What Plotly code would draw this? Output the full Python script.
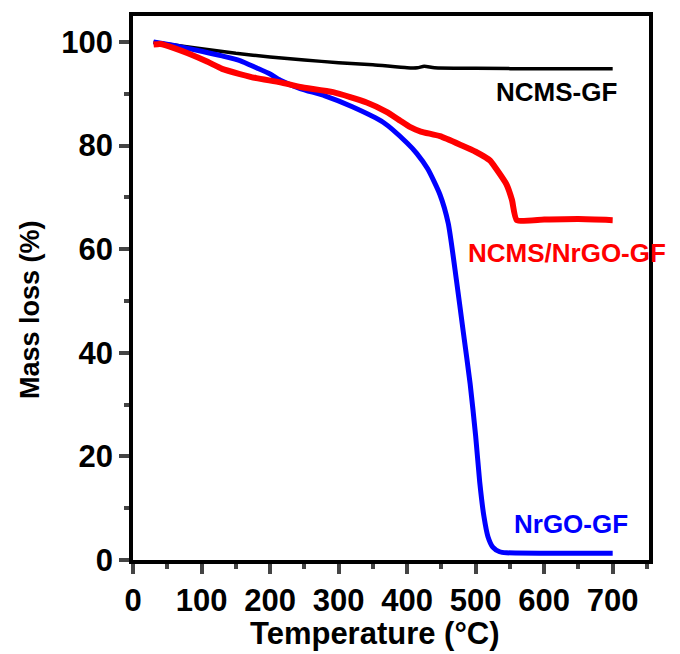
import plotly.graph_objects as go

# NCMS-GF (black)
t_ncms = [30, 50, 100, 150, 200, 250, 300, 350, 400, 415, 425, 440, 500, 600, 700]
m_ncms = [100, 99.6, 98.7, 97.8, 97.1, 96.5, 96.0, 95.6, 95.0, 95.0, 95.3, 95.0, 94.9, 94.8, 94.8]

# NrGO-GF (blue)
t_nrgo = [30, 60, 100, 130, 156, 180, 200, 215, 244, 280, 320, 365, 400, 414, 430, 448, 460,
          472, 482, 492, 500, 506, 512, 518, 525, 535, 545, 600, 700]
m_nrgo = [100, 99.3, 98.2, 97.3, 96.4, 95.0, 93.8, 92.6, 91.0, 89.6, 87.5, 84.5, 80.5, 78.5,
          75.5, 70.5, 65.0, 54.0, 44.0, 34.0, 24.0, 15.0, 8.5, 4.5, 2.5, 1.6, 1.4, 1.3, 1.3]

# NCMS/NrGO-GF (red)
t_comp = [30, 40, 60, 80, 108, 130, 156, 180, 215, 244, 292, 341, 370, 390, 404, 420, 448,
          480, 500, 521, 530, 545, 553, 560, 600, 650, 700]
m_comp = [99.5, 99.6, 98.8, 97.8, 96.2, 94.8, 93.8, 93.0, 92.2, 91.3, 90.3, 88.3, 86.5, 84.8,
          83.6, 82.7, 81.8, 80.0, 78.8, 77.1, 75.5, 72.5, 69.5, 65.6, 65.7, 65.8, 65.6]

x_ticks = [0, 100, 200, 300, 400, 500, 600, 700]
y_ticks = [0, 20, 40, 60, 80, 100]

labels = ["NCMS-GF", "NCMS/NrGO-GF", "NrGO-GF"]
label_x = [618, 634, 639]
label_y = [90.3, 59.2, 6.9]
label_colors = ["#000000", "#ff0000", "#0000ff"]

fig = go.Figure()
fig.add_trace(go.Scatter(x=t_ncms, y=m_ncms, mode="lines", line=dict(color="#000000", width=3.5, shape="spline", smoothing=0.6), name="NCMS-GF"))
fig.add_trace(go.Scatter(x=t_nrgo, y=m_nrgo, mode="lines", line=dict(color="#0000ff", width=5, shape="spline", smoothing=0.6), name="NrGO-GF"))
fig.add_trace(go.Scatter(x=t_comp, y=m_comp, mode="lines", line=dict(color="#ff0000", width=6, shape="spline", smoothing=0.5), name="NCMS/NrGO-GF"))

for txt, lx, ly, c in zip(labels, label_x, label_y, label_colors):
    fig.add_annotation(x=lx, y=ly, xref="x", yref="y", text=txt, showarrow=False,
                       font=dict(family="Liberation Sans, Arial, sans-serif", size=26, color=c, weight="bold"))

tickfont = dict(family="Liberation Sans, Arial, sans-serif", size=31, color="#000000", weight="bold")

# axis titles placed as paper annotations
fig.add_annotation(x=(30 - 133) / 516, y=(560 - 310) / 544, xref="paper", yref="paper",
                   text="Mass loss (%)", textangle=-90, showarrow=False,
                   xanchor="center", yanchor="middle",
                   font=dict(family="Liberation Sans, Arial, sans-serif", size=27, color="#000000", weight="bold"))
fig.add_annotation(x=(375 - 133) / 516, y=(560 - 633) / 544, xref="paper", yref="paper",
                   text="Temperature (°C)", showarrow=False,
                   xanchor="center", yanchor="middle",
                   font=dict(family="Liberation Sans, Arial, sans-serif", size=31, color="#000000", weight="bold"))

fig.update_layout(
    width=680, height=654,
    margin=dict(l=133, r=31, t=16, b=94),
    paper_bgcolor="white", plot_bgcolor="white",
    showlegend=False,
    xaxis=dict(range=[0, 753], tickvals=x_ticks, ticks="outside", ticklen=10, tickwidth=3.5,
               showline=True, linewidth=3.5, linecolor="black", mirror=True, showgrid=False,
               zeroline=False, tickfont=tickfont, automargin=False,
               minor=dict(dtick=50, tick0=0, ticks="outside", ticklen=5, tickwidth=3.5, showgrid=False)),
    yaxis=dict(range=[0, 105], tickvals=y_ticks, ticks="outside", ticklen=10, tickwidth=3.5,
               showline=True, linewidth=3.5, linecolor="black", mirror=True, showgrid=False,
               zeroline=False, tickfont=tickfont, automargin=False,
               minor=dict(dtick=10, tick0=0, ticks="outside", ticklen=5, tickwidth=3.5, showgrid=False)),
)

fig.write_html("out.html")
